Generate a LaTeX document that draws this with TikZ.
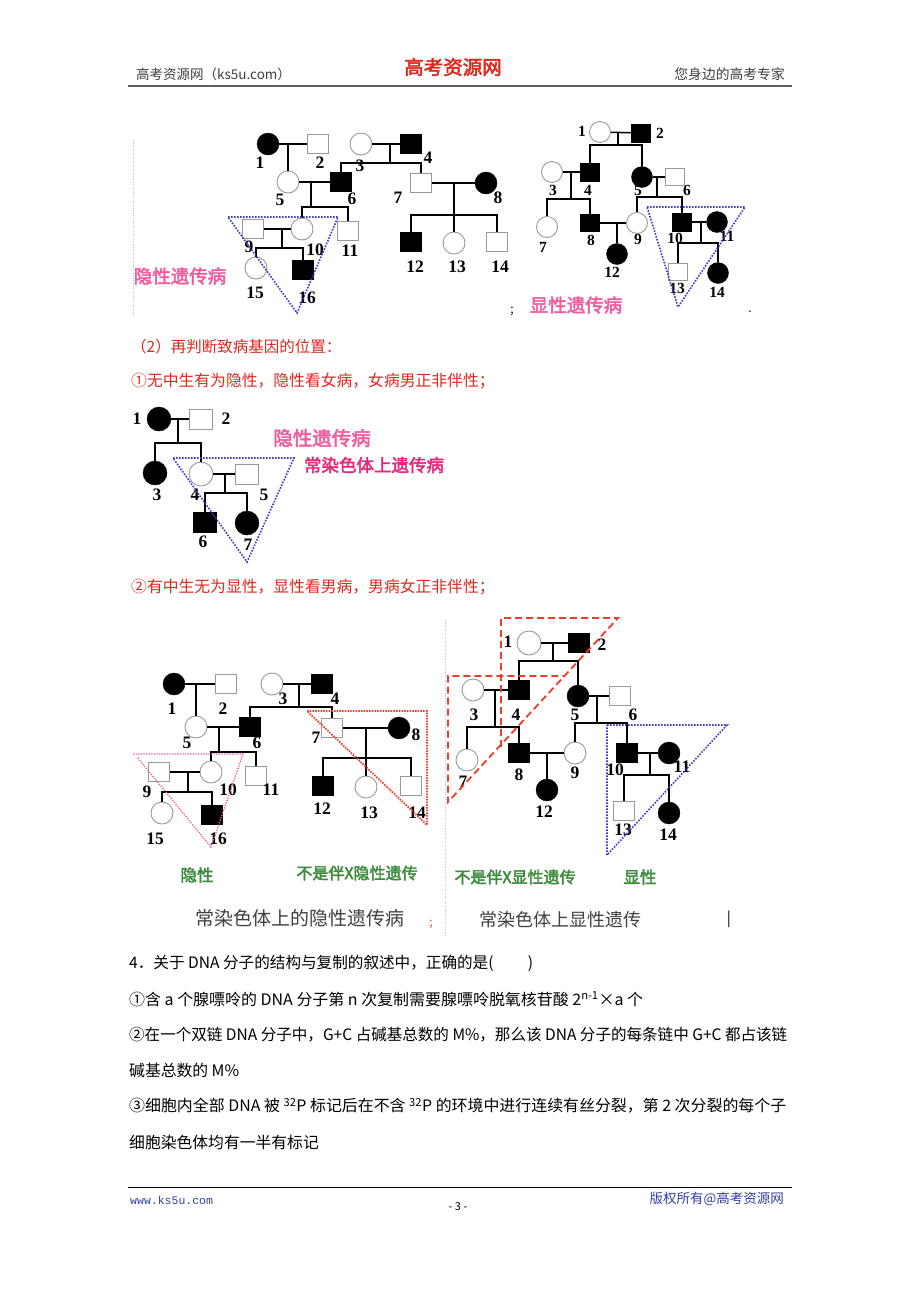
\documentclass[tikz,border=0pt]{standalone}
\usepackage{fontspec}
\usepackage{graphicx}
\setmainfont{Noto Sans CJK SC}
\newfontfamily\cjkb{Noto Sans CJK SC}[FakeBold=2.5]
\newfontfamily\tnr{Liberation Serif}
\newfontfamily\mono{Liberation Mono}
\definecolor{redtxt}{HTML}{E0281E}
\definecolor{pinkA}{HTML}{F25C9E}
\definecolor{magA}{HTML}{E6287A}
\definecolor{greenA}{HTML}{3C8C3C}
\definecolor{blueD}{HTML}{3C3CC8}
\definecolor{redD}{HTML}{F03C28}
\definecolor{grayT}{HTML}{404040}
\definecolor{footblue}{HTML}{3340A0}
\tikzset{
  fe/.style={circle, draw=gray!80, line width=0.9pt, minimum size=22pt, inner sep=0pt, fill=white},
  fa/.style={circle, draw=black, fill=black, minimum size=22pt, inner sep=0pt},
  me/.style={rectangle, draw=gray!80, line width=0.9pt, minimum width=21pt, minimum height=19pt, inner sep=0pt, fill=white},
  ma/.style={rectangle, draw=black, fill=black, minimum width=21pt, minimum height=19pt, inner sep=0pt},
  lk/.style={line width=1.5pt, black},
  num/.style={font=\tnr\bfseries\fontsize{17.5}{17.5}\selectfont, inner sep=0pt},
  nums/.style={font=\tnr\bfseries\fontsize{15.5}{15.5}\selectfont, inner sep=0pt},
  bluedot/.style={blueD, line width=1.6pt, dash pattern=on 1.6pt off 1.4pt},
  txt/.style={inner sep=0pt, anchor=west},
  body/.style={inner sep=0pt, anchor=west, font=\fontsize{15.8}{16}\selectfont},
}
\begin{document}
\begin{tikzpicture}[x=1pt,y=-1pt]
\useasboundingbox[fill=white] (0,0) rectangle (920,1302);

% ---------- header ----------
\node[txt, text=grayT, font=\fontsize{13.5}{14}\selectfont] (h1) at (136,74) {高考资源网（ks5u.com）};
\node[inner sep=0pt, text=redtxt, font=\cjkb\fontsize{19.5}{20}\selectfont] (h2) at (453,67) {高考资源网};
\node[inner sep=0pt, anchor=east, text=grayT, font=\fontsize{13.8}{14}\selectfont] (h3) at (785,74) {您身边的高考专家};
\draw[line width=1.8pt, gray!75!black] (128,86) -- (792,86);

% ---------- pedigree 1 (recessive) ----------
\draw[gray!50, line width=0.6pt, dotted] (133,140) -- (133,315);
\node[fa] (a1) at (268,144) {};
\node[me] (a2) at (318,144) {};
\node[fe] (a3) at (361,144) {};
\node[ma] (a4) at (411,144) {};
\node[fe] (a5) at (288,182) {};
\node[ma] (a6) at (341,182) {};
\node[me] (a7) at (421,183) {};
\node[fa] (a8) at (486,183) {};
\node[me] (a9) at (253,229) {};
\node[fe] (a10) at (302,229) {};
\node[me] (a11) at (348,231) {};
\node[ma] (a12) at (411,242) {};
\node[fe] (a13) at (454,243) {};
\node[me] (a14) at (497,242) {};
\node[fe] (a15) at (256,268) {};
\node[ma] (a16) at (303,270) {};
\coordinate (am12) at (288,144);
\coordinate (am34) at (390,144);
\coordinate (as34) at (390,163);
\coordinate (am56) at (311,182);
\coordinate (as56) at (311,207);
\coordinate (am78) at (454,183);
\coordinate (as78) at (454,215);
\coordinate (am910) at (282,229);
\coordinate (as910) at (282,248);
\draw[lk] (a1) -- (a2);
\draw[lk] (am12) -- (a5);
\draw[lk] (a3) -- (a4);
\draw[lk] (am34) -- (as34);
\draw[lk] (a6) |- (as34) -| (a7);
\draw[lk] (a5) -- (a6);
\draw[lk] (am56) -- (as56);
\draw[lk] (a10) |- (as56) -| (a11);
\draw[lk] (a7) -- (a8);
\draw[lk] (am78) -- (a13);
\draw[lk] (a12) |- (as78) -| (a14);
\draw[lk] (a9) -- (a10);
\draw[lk] (am910) -- (as910);
\draw[lk] (a15) |- (as910) -| (a16);
\node[num] (al1) at (260,163) {1};
\node[num] (al2) at (320,163) {2};
\node[num] (al3) at (360,166) {3};
\node[num] (al4) at (428,158) {4};
\node[num] (al5) at (280,200) {5};
\node[num] (al6) at (352,199) {6};
\node[num] (al7) at (398,198) {7};
\node[num] (al8) at (498,198) {8};
\node[num] (al9) at (249,247) {9};
\node[num] (al10) at (315,250) {10};
\node[num] (al11) at (350,251) {11};
\node[num] (al12) at (415,267) {12};
\node[num] (al13) at (457,267) {13};
\node[num] (al14) at (500,267) {14};
\node[num] (al15) at (255,293) {15};
\node[num] (al16) at (307,298) {16};
\draw[bluedot] (228,217) -- (338,217) -- (297,313) -- cycle;
\node[inner sep=0pt, text=pinkA, font=\cjkb\fontsize{18.5}{19}\selectfont] (at1) at (180,276) {隐性遗传病};
\node[inner sep=0pt, font=\fontsize{12}{12}\selectfont] (as1) at (512,311) {;};

% ---------- pedigree 2 (dominant) ----------
\node[fe, minimum size=21pt] (b1) at (600,132) {};
\node[ma, minimum width=19pt, minimum height=18pt] (b2) at (641,133) {};
\node[fe, minimum size=21pt] (b3) at (552,172) {};
\node[ma, minimum width=19pt, minimum height=18pt] (b4) at (590,172) {};
\node[fa, minimum size=21pt] (b5) at (642,177) {};
\node[me, minimum width=19pt, minimum height=17pt] (b6) at (675,177) {};
\node[fe, minimum size=21pt] (b7) at (547,227) {};
\node[ma, minimum width=19pt, minimum height=17pt] (b8) at (590,223) {};
\node[fe, minimum size=21pt] (b9) at (637,223) {};
\node[ma, minimum width=19pt, minimum height=18pt] (b10) at (682,222) {};
\node[fa, minimum size=21pt] (b11) at (717,222) {};
\node[fa, minimum size=21pt] (b12) at (617,254) {};
\node[me, minimum width=19pt, minimum height=17pt] (b13) at (678,272) {};
\node[fa, minimum size=21pt] (b14) at (718,273) {};
\coordinate (bm12) at (618,132);
\coordinate (bs12) at (618,145);
\coordinate (bm34) at (571,172);
\coordinate (bs34) at (571,199);
\coordinate (bm56) at (657,177);
\coordinate (bs56) at (657,197);
\coordinate (bm89) at (617,223);
\coordinate (bm1011) at (701,222);
\coordinate (bs1011) at (701,243);
\draw[lk] (b1) -- (b2);
\draw[lk] (bm12) -- (bs12);
\draw[lk] (b4) |- (bs12) -| (b5);
\draw[lk] (b3) -- (b4);
\draw[lk] (bm34) -- (bs34);
\draw[lk] (b7) |- (bs34) -| (b8);
\draw[lk] (b5) -- (b6);
\draw[lk] (bm56) -- (bs56);
\draw[lk] (b9) |- (bs56) -| (b10);
\draw[lk] (b8) -- (b9);
\draw[lk] (bm89) -- (b12);
\draw[lk] (b10) -- (b11);
\draw[lk] (bm1011) -- (bs1011);
\draw[lk] (b13) |- (bs1011) -| (b14);
\node[nums] (bl1) at (582,131) {1};
\node[nums] (bl2) at (660,133) {2};
\node[nums] (bl3) at (553,190) {3};
\node[nums] (bl4) at (588,190) {4};
\node[nums] (bl5) at (638,190) {5};
\node[nums] (bl6) at (687,190) {6};
\node[nums] (bl7) at (543,247) {7};
\node[nums] (bl8) at (591,240) {8};
\node[nums] (bl9) at (638,239) {9};
\node[nums] (bl10) at (675,238) {10};
\node[nums] (bl11) at (727,236) {11};
\node[nums] (bl12) at (612,272) {12};
\node[nums] (bl13) at (677,288) {13};
\node[nums] (bl14) at (717,292) {14};
\draw[bluedot] (647,207) -- (745,207) -- (678,307) -- cycle;
\node[inner sep=0pt, text=pinkA, font=\cjkb\fontsize{18.5}{19}\selectfont] (bt1) at (576,305) {显性遗传病};
\node[inner sep=0pt, font=\fontsize{12}{12}\selectfont] (bs1) at (750,312) {.};

% ---------- section (2) ----------
\node[txt, text=redtxt, font=\fontsize{15.5}{16}\selectfont] (t0) at (131,347) {（2）再判断致病基因的位置：};
\node[txt, text=redtxt, font=\fontsize{15.8}{16}\selectfont] (t1) at (131,381) {①无中生有为隐性，隐性看女病，女病男正非伴性；};

% ---------- pedigree 3 ----------
\node[fa, minimum size=24pt] (c1) at (159,419) {};
\node[me, minimum width=23pt, minimum height=20pt] (c2) at (201,419) {};
\node[fa, minimum size=24pt] (c3) at (155,473) {};
\node[fe, minimum size=24pt] (c4) at (201,474) {};
\node[me, minimum width=23pt, minimum height=20pt] (c5) at (247,474) {};
\node[ma, minimum width=23pt, minimum height=20pt] (c6) at (205,522) {};
\node[fa, minimum size=24pt] (c7) at (247,523) {};
\coordinate (cm12) at (178,419);
\coordinate (cs12) at (178,443);
\coordinate (cm45) at (225,474);
\coordinate (cs45) at (225,493);
\draw[lk] (c1) -- (c2);
\draw[lk] (cm12) -- (cs12);
\draw[lk] (c3) |- (cs12) -| (c4);
\draw[lk] (c4) -- (c5);
\draw[lk] (cm45) -- (cs45);
\draw[lk] (c6) |- (cs45) -| (c7);
\node[num] (cl1) at (137,419) {1};
\node[num] (cl2) at (226,419) {2};
\node[num] (cl3) at (157,495) {3};
\node[num] (cl4) at (195,495) {4};
\node[num] (cl5) at (264,495) {5};
\node[num] (cl6) at (203,542) {6};
\node[num] (cl7) at (248,545) {7};
\draw[bluedot] (173,458) -- (294,458) -- (247,562) -- cycle;
\node[inner sep=0pt, text=pinkA, font=\cjkb\fontsize{19.5}{20}\selectfont] (ct1) at (322,438) {隐性遗传病};
\node[inner sep=0pt, text=magA, font=\cjkb\fontsize{17.5}{18}\selectfont] (ct2) at (374,465) {常染色体上遗传病};

\node[txt, text=redtxt, font=\fontsize{15.8}{16}\selectfont] (t2) at (131,587) {②有中生无为显性，显性看男病，男病女正非伴性；};

% ---------- pedigree 4 left ----------
\node[fa] (d1) at (174,684) {};
\node[me] (d2) at (226,684) {};
\node[fe] (d3) at (272,684) {};
\node[ma] (d4) at (322,684) {};
\node[fe] (d5) at (196,727) {};
\node[ma] (d6) at (250,727) {};
\node[me] (d7) at (332,728) {};
\node[fa] (d8) at (399,728) {};
\node[me] (d9) at (159,772) {};
\node[fe] (d10) at (211,772) {};
\node[me] (d11) at (256,776) {};
\node[ma] (d12) at (323,786) {};
\node[fe] (d13) at (366,787) {};
\node[me] (d14) at (411,786) {};
\node[fe] (d15) at (162,813) {};
\node[ma] (d16) at (212,815) {};
\coordinate (dm12) at (196,684);
\coordinate (dm34) at (299,684);
\coordinate (ds34) at (299,707);
\coordinate (dm56) at (219,727);
\coordinate (ds56) at (219,752);
\coordinate (dm78) at (366,728);
\coordinate (ds78) at (366,758);
\coordinate (dm910) at (188,772);
\coordinate (ds910) at (188,792);
\draw[lk] (d1) -- (d2);
\draw[lk] (dm12) -- (d5);
\draw[lk] (d3) -- (d4);
\draw[lk] (dm34) -- (ds34);
\draw[lk] (d6) |- (ds34) -| (d7);
\draw[lk] (d5) -- (d6);
\draw[lk] (dm56) -- (ds56);
\draw[lk] (d10) |- (ds56) -| (d11);
\draw[lk] (d7) -- (d8);
\draw[lk] (dm78) -- (d13);
\draw[lk] (d12) |- (ds78) -| (d14);
\draw[lk] (d9) -- (d10);
\draw[lk] (dm910) -- (ds910);
\draw[lk] (d15) |- (ds910) -| (d16);
\node[num] (dl1) at (172,709) {1};
\node[num] (dl2) at (223,709) {2};
\node[num] (dl3) at (283,699) {3};
\node[num] (dl4) at (335,699) {4};
\node[num] (dl5) at (187,743) {5};
\node[num] (dl6) at (257,743) {6};
\node[num] (dl7) at (316,738) {7};
\node[num] (dl8) at (416,735) {8};
\node[num] (dl9) at (147,792) {9};
\node[num] (dl10) at (228,790) {10};
\node[num] (dl11) at (271,790) {11};
\node[num] (dl12) at (322,809) {12};
\node[num] (dl13) at (369,813) {13};
\node[num] (dl14) at (417,813) {14};
\node[num] (dl15) at (155,839) {15};
\node[num] (dl16) at (218,839) {16};
\draw[pinkA, line width=1.3pt, dash pattern=on 1.3pt off 1.3pt] (133,754) -- (243,754) -- (211,847) -- (137,757);
\draw[redD, line width=1.8pt, dash pattern=on 1.5pt off 1.2pt] (307,711) -- (427,711) -- (427,825) -- cycle;
\node[inner sep=0pt, text=greenA, font=\cjkb\fontsize{16.5}{17}\selectfont] (dt1) at (197,875) {隐性};
\node[inner sep=0pt, text=greenA, font=\cjkb\fontsize{16}{16}\selectfont] (dt2) at (357,873) {不是伴X隐性遗传};
\node[inner sep=0pt, text=grayT, font=\fontsize{19}{19}\selectfont] (dt3) at (300,918) {常染色体上的隐性遗传病};
\node[inner sep=0pt, text=redD, font=\fontsize{12}{12}\selectfont] (ds) at (431,924) {;};

% ---------- pedigree 4 right ----------
\draw[gray!45, line width=0.6pt, dotted] (445,620) -- (445,935);
\node[fe, minimum size=24pt] (e1) at (529,643) {};
\node[ma] (e2) at (579,643) {};
\node[fe] (e3) at (473,690) {};
\node[ma] (e4) at (519,690) {};
\node[fa] (e5) at (578,696) {};
\node[me] (e6) at (620,696) {};
\node[fe] (e7) at (467,760) {};
\node[ma] (e8) at (519,753) {};
\node[fe] (e9) at (575,753) {};
\node[ma] (e10) at (627,753) {};
\node[fa] (e11) at (669,753) {};
\node[fa] (e12) at (547,790) {};
\node[me] (e13) at (624,811) {};
\node[fa] (e14) at (669,813) {};
\coordinate (em12) at (553,643);
\coordinate (es12) at (553,661);
\coordinate (em34) at (495,690);
\coordinate (es34) at (495,727);
\coordinate (em56) at (597,696);
\coordinate (es56) at (597,723);
\coordinate (em89) at (547,753);
\coordinate (em1011) at (650,753);
\coordinate (es1011) at (650,775);
\draw[lk] (e1) -- (e2);
\draw[lk] (em12) -- (es12);
\draw[lk] (e4) |- (es12) -| (e5);
\draw[lk] (e3) -- (e4);
\draw[lk] (em34) -- (es34);
\draw[lk] (e7) |- (es34) -| (e8);
\draw[lk] (e5) -- (e6);
\draw[lk] (em56) -- (es56);
\draw[lk] (e9) |- (es56) -| (e10);
\draw[lk] (e8) -- (e9);
\draw[lk] (em89) -- (e12);
\draw[lk] (e10) -- (e11);
\draw[lk] (em1011) -- (es1011);
\draw[lk] (e13) |- (es1011) -| (e14);
\node[num] (el1) at (508,642) {1};
\node[num] (el2) at (602,645) {2};
\node[num] (el3) at (474,715) {3};
\node[num] (el4) at (516,715) {4};
\node[num] (el5) at (575,715) {5};
\node[num] (el6) at (633,715) {6};
\node[num] (el7) at (463,782) {7};
\node[num] (el8) at (519,775) {8};
\node[num] (el9) at (575,773) {9};
\node[num] (el10) at (615,770) {10};
\node[num] (el11) at (682,767) {11};
\node[num] (el12) at (544,812) {12};
\node[num] (el13) at (623,830) {13};
\node[num] (el14) at (668,835) {14};
\draw[bluedot] (607,725) -- (727,725) -- (607,855) -- cycle;
\draw[redD, line width=1.8pt, dash pattern=on 7pt off 4pt] (501,747) -- (501,618) -- (618,618) -- (448,802) -- (448,676) -- (564,676);
\node[inner sep=0pt, text=greenA, font=\cjkb\fontsize{16}{16}\selectfont] (et1) at (515,877) {不是伴X显性遗传};
\node[inner sep=0pt, text=greenA, font=\cjkb\fontsize{16.5}{17}\selectfont] (et2) at (640,877) {显性};
\node[inner sep=0pt, text=grayT, font=\fontsize{18}{18}\selectfont] (et3) at (560,920) {常染色体上显性遗传};
\node[inner sep=0pt, font=\fontsize{15}{15}\selectfont] (ebar) at (729,919) {|};

% ---------- question 4 ----------
\node[body] (q1) at (129,963) {\resizebox{404pt}{\height}{4．关于 DNA 分子的结构与复制的叙述中，正确的是(\hspace{2.2em})}};
\node[body] (q2) at (129,999) {\resizebox{514pt}{\height}{①含 a 个腺嘌呤的 DNA 分子第 n 次复制需要腺嘌呤脱氧核苷酸 2\textsuperscript{n-1}×a 个}};
\node[body] (q3) at (129,1035) {\resizebox{658pt}{\height}{②在一个双链 DNA 分子中，G+C 占碱基总数的 M\%，那么该 DNA 分子的每条链中 G+C 都占该链}};
\node[body] (q4) at (129,1070) {碱基总数的 M\%};
\node[body] (q5) at (129,1106) {\resizebox{657pt}{\height}{③细胞内全部 DNA 被 \textsuperscript{32}P 标记后在不含 \textsuperscript{32}P 的环境中进行连续有丝分裂，第 2 次分裂的每个子}};
\node[body] (q6) at (129,1142) {细胞染色体均有一半有标记};

% ---------- footer ----------
\draw[line width=0.8pt, black] (128,1187) -- (792,1187);
\node[txt, text=footblue, font=\mono\fontsize{11.5}{12}\selectfont] (f1) at (130,1200) {www.ks5u.com};
\node[inner sep=0pt, font=\fontsize{11}{11}\selectfont] (f2) at (458,1207) {- 3 -};
\node[inner sep=0pt, anchor=east, text=footblue, font=\fontsize{13.5}{14}\selectfont] (f3) at (784,1199) {版权所有@高考资源网};
\end{tikzpicture}
\end{document}
